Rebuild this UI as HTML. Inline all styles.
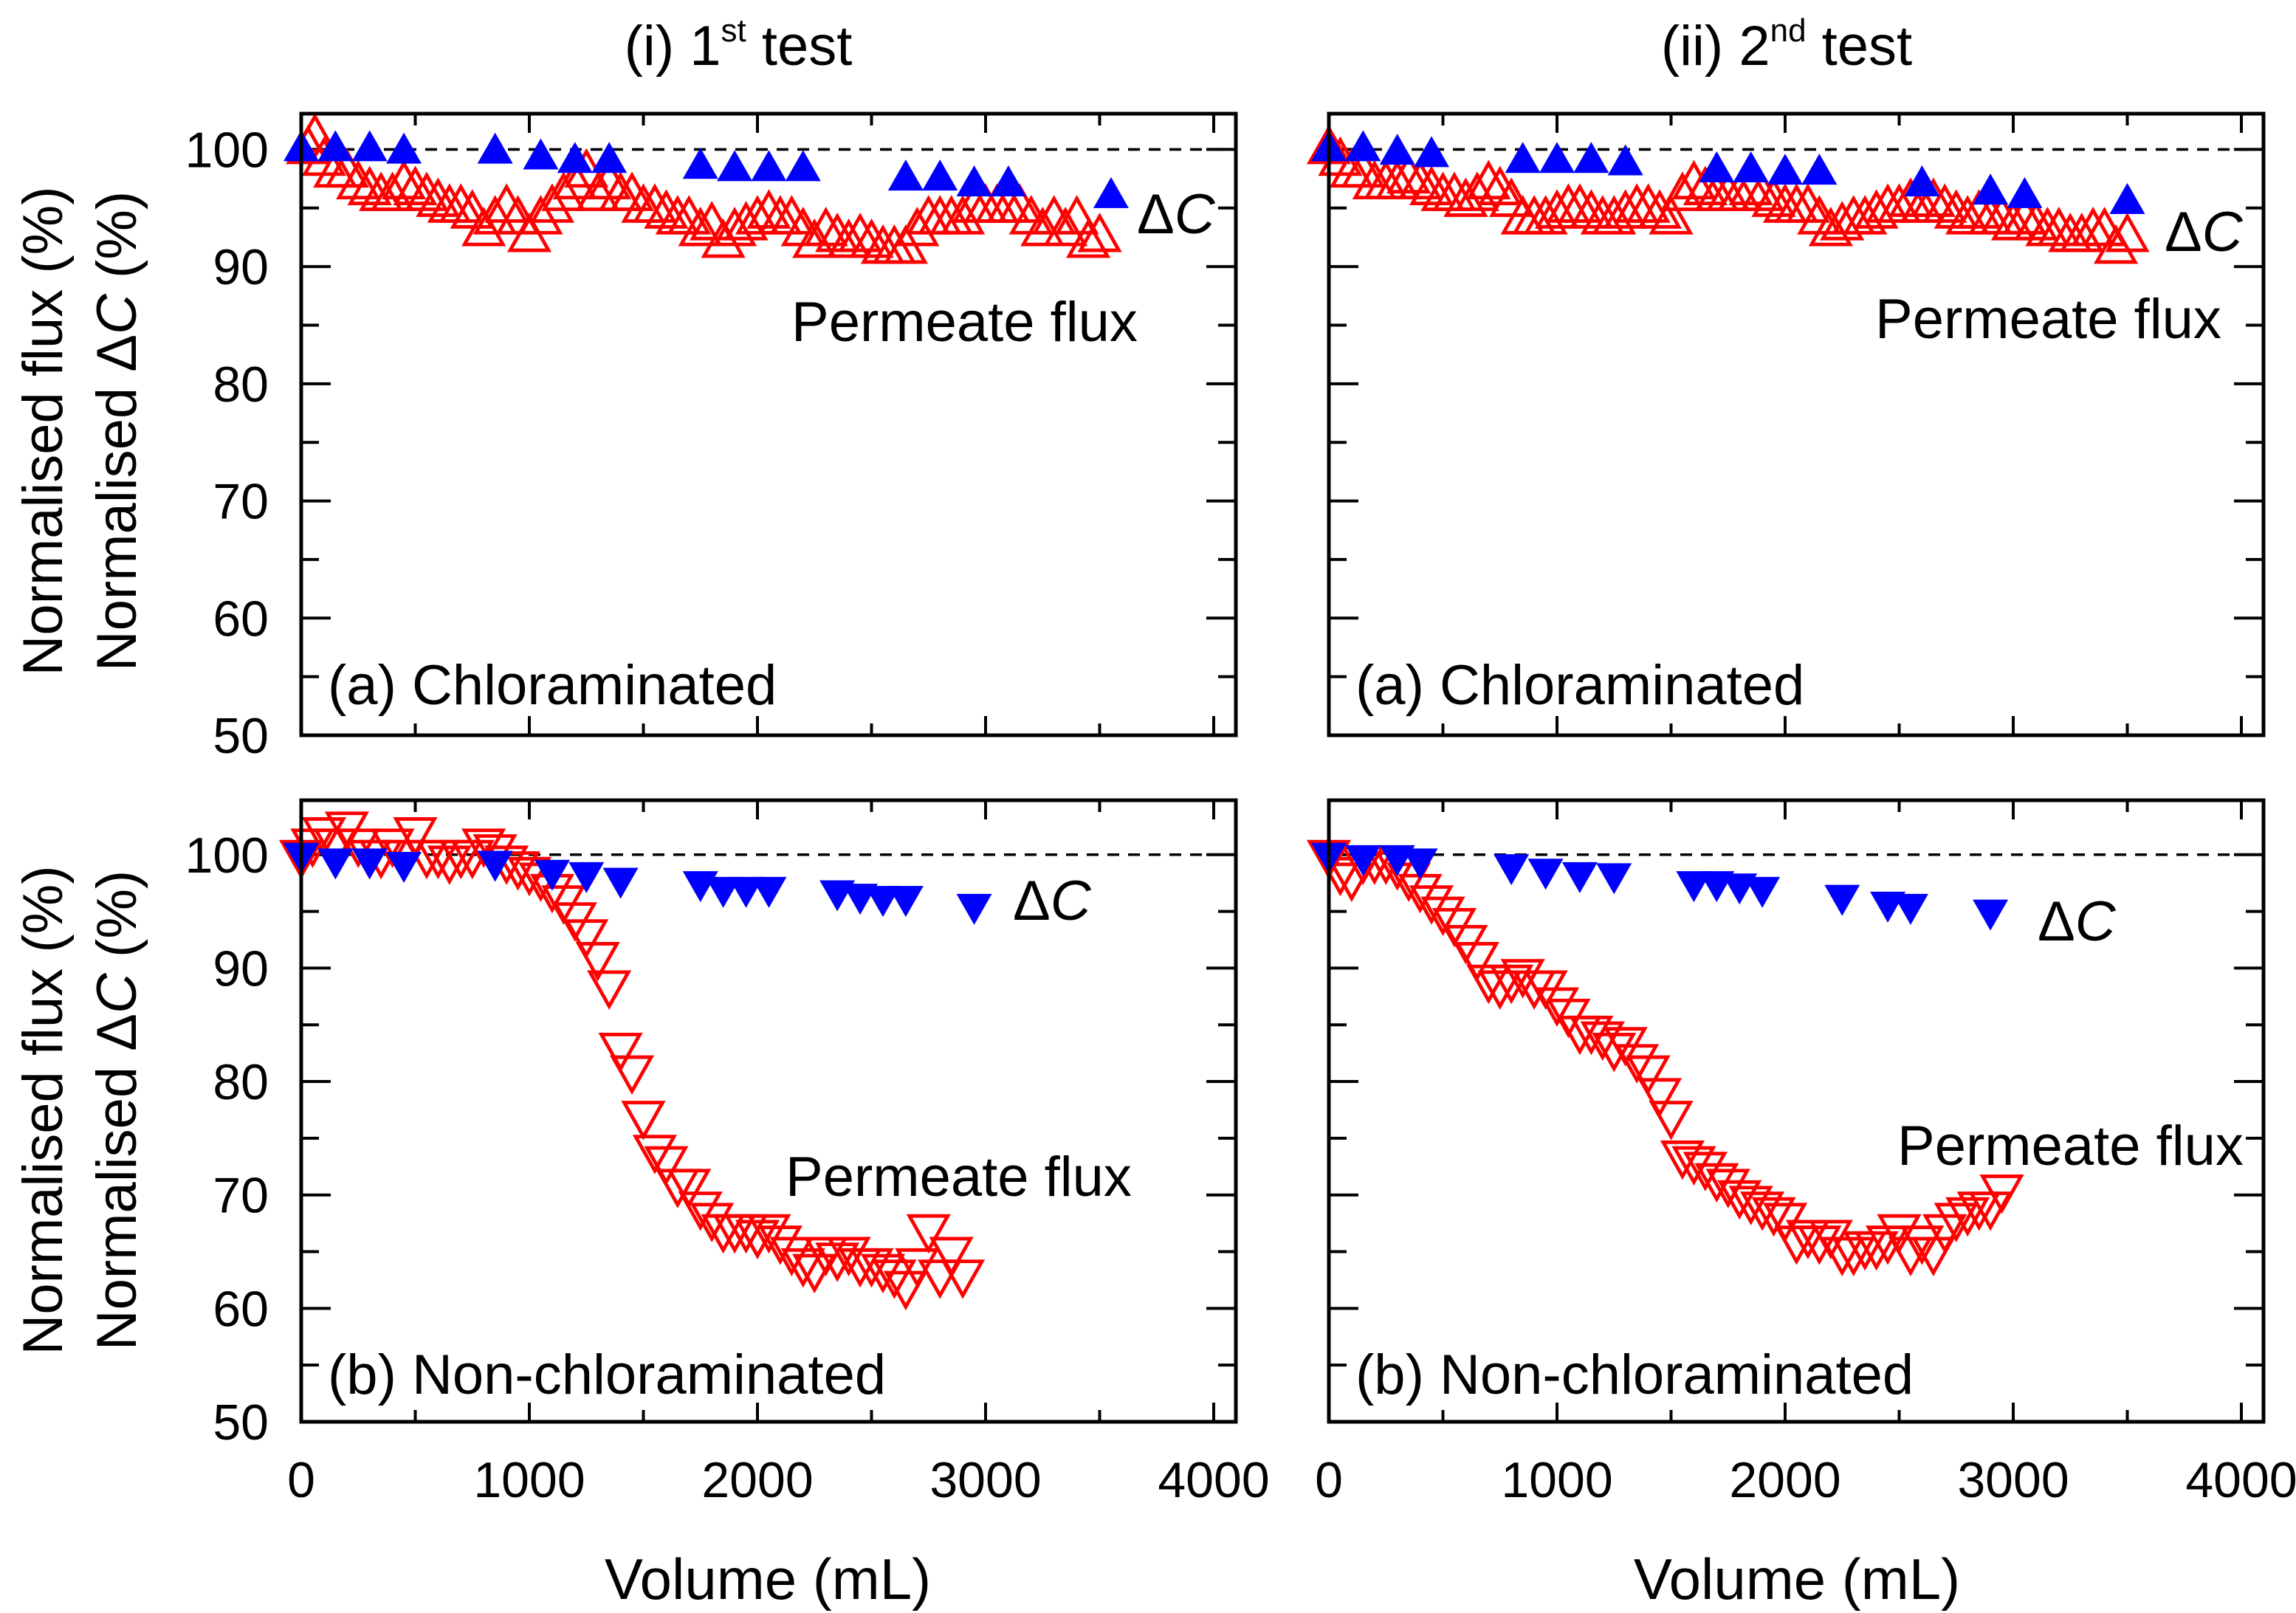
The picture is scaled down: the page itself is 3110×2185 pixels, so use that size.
<!DOCTYPE html>
<html><head><meta charset="utf-8"><style>
html,body{margin:0;padding:0;background:#fff}
svg{display:block}
text{font-family:"Liberation Sans",sans-serif;fill:#000}
</style></head><body>
<svg id="chart" width="3110" height="2185" viewBox="0 0 1555 1092.5" xmlns="http://www.w3.org/2000/svg">
<text x="500" y="44" text-anchor="middle" font-size="38">(i) 1<tspan font-size="22" dy="-16">st</tspan><tspan dy="16"> test</tspan></text>
<text x="1210" y="44" text-anchor="middle" font-size="38">(ii) 2<tspan font-size="22" dy="-16">nd</tspan><tspan dy="16"> test</tspan></text>
<text x="520" y="1083" text-anchor="middle" font-size="39">Volume (mL)</text>
<text x="1217" y="1083" text-anchor="middle" font-size="39">Volume (mL)</text>
<text transform="translate(42,292) rotate(-90)" text-anchor="middle" font-size="38">Normalised flux (%)</text>
<text transform="translate(92,292) rotate(-90)" text-anchor="middle" font-size="38">Normalised Δ<tspan font-style="italic">C</tspan> (%)</text>
<text transform="translate(42,752) rotate(-90)" text-anchor="middle" font-size="38">Normalised flux (%)</text>
<text transform="translate(92,752) rotate(-90)" text-anchor="middle" font-size="38">Normalised Δ<tspan font-style="italic">C</tspan> (%)</text>
</svg>
<script>
const xTicks=[0,1000,2000,3000,4000];
const yTicks=[50,60,70,80,90,100];
const tlFluxX=[30,60,100,150,200,250,300,350,400,450,500,550,600,650,700,750,800,850,900,950,1000,1050,1100,1150,1200,1250,1300,1350,1400,1450,1500,1550,1600,1650,1700,1750,1800,1850,1900,1950,2000,2050,2100,2150,2200,2250,2300,2350,2400,2450,2500,2550,2600,2650,2700,2750,2800,2850,2900,2950,3000,3050,3100,3150,3200,3250,3300,3350,3400,3450,3500];
const tlFluxY=[100,101,99,98,98,97,96.5,96,96,97,96.5,96,95.5,95,95,94.5,93,94,95,94,92.5,94,95,96,97,98,96,97,96,96,95,95,94.5,94,94,93,93.5,92,93,93.5,94,94.5,94,94,93,92,93,92.5,92,92.5,92,91.5,91.5,91.5,93,94,94,94,94,95,95,95,95,95,94,93,94,93,94,92,92.5];
const tlDcX=[0,150,300,450,850,1050,1200,1350,1750,1900,2050,2200,2650,2800,2950,3100,3550];
const tlDcY=[100,100,100,99.8,99.8,99.3,99,99,98.5,98.3,98.3,98.3,97.5,97.5,97,97,96];
const trFluxX=[0,50,100,150,200,250,300,350,400,450,500,550,600,650,700,750,800,850,900,950,1000,1050,1100,1150,1200,1250,1300,1350,1400,1450,1500,1550,1600,1650,1700,1750,1800,1850,1900,1950,2000,2050,2100,2150,2200,2250,2300,2350,2400,2450,2500,2550,2600,2650,2700,2750,2800,2850,2900,2950,3000,3050,3100,3150,3200,3250,3300,3350,3400,3450,3500];
const trFluxY=[100,99,98,98,97,97,97,97.5,97,96.5,96,96,95.5,96,97,96.5,95.5,94,94,94,94.5,95,95,94.5,94,94,94.5,95,95,94.5,94,96,97,96.5,96,96,96,96.5,96,95.5,95,95,95,94,93,93.5,94,94,94.5,95,95,95.5,95,95.5,95,94.5,94,94.5,94,94,93.5,94,93.5,93,93,92.5,92.5,93,93,91.5,92.5];
const trDcX=[0,150,300,450,850,1000,1150,1300,1700,1850,2000,2150,2600,2900,3050,3500];
const trDcY=[100,100,99.7,99.5,99,99,99,98.8,98.2,98.2,98,98,97,96.3,96,95.5];
const blFluxX=[0,50,100,150,200,250,300,350,400,450,500,550,600,650,700,750,800,850,900,950,1000,1050,1100,1150,1200,1250,1300,1350,1400,1450,1500,1550,1600,1650,1700,1750,1800,1850,1900,1950,2000,2050,2100,2150,2200,2250,2300,2350,2400,2450,2500,2550,2600,2650,2700,2750,2800,2850,2900];
const blFluxY=[100,101,102,101,102.5,101,100,100,101,100,102,100,100,99.5,100,100,101,100.5,99.5,99,98.5,98,97,96,94.5,93,91,88.5,83,81,77,74,73,71,71,69,68,67,67,67,66.5,67,66,65,64,63.5,65,64.5,65,64,64,63.5,63,62,64,67,63,65,63];
const blDcX=[0,150,300,450,850,1100,1250,1400,1750,1850,1950,2050,2350,2450,2550,2650,2950];
const blDcY=[100,99.5,99.5,99.2,99.3,98.5,98.3,97.8,97.5,97,97,97,96.7,96.4,96.2,96.2,95.5];
const brFluxX=[0,50,100,150,200,250,300,350,400,450,500,550,600,650,700,750,800,850,900,950,1000,1050,1100,1150,1200,1250,1300,1350,1400,1450,1500,1550,1600,1650,1700,1750,1800,1850,1900,1950,2000,2050,2100,2150,2200,2250,2300,2350,2400,2450,2500,2550,2600,2650,2700,2750,2800,2850,2900,2950];
const brFluxY=[100,98.5,98,99.5,99.5,99.5,99,98,97,96,95,94,92.5,91,89,88.5,89,89.5,88.5,88.5,87,86,84.5,84.5,84,83,83.5,82,81,79,77,73.5,73,72.5,71.5,71,70,69.5,69,68.5,68,66,66.5,66,66.5,65,65,65.5,65.5,66,67,65,66,65,67,68,68.5,69,69,70.5];
const brDcX=[0,150,300,400,800,950,1100,1250,1600,1700,1800,1900,2250,2450,2550,2900];
const brDcY=[100,99.8,99.8,99.5,99,98.6,98.3,98.2,97.5,97.5,97.3,97,96.3,95.7,95.5,95];

const NS="http://www.w3.org/2000/svg";
const svg=document.getElementById('chart');
function mk(tag,at,parent){const e=document.createElementNS(NS,tag);for(const k in at)e.setAttribute(k,at[k]);(parent||svg).appendChild(e);return e;}

const panels=[
 {id:'a1',L:204,T:77,B:498,ymax:103.05,x4:822,fx:tlFluxX,fy:tlFluxY,dx:tlDcX,dy:tlDcY,up:true,xl:false,yl:true,
  labels:[['Permeate flux',536,231],['(a) Chloraminated',222,477]],dc:[770,158]},
 {id:'a2',L:900,T:77,B:498,ymax:103.05,x4:1518,fx:trFluxX,fy:trFluxY,dx:trDcX,dy:trDcY,up:true,xl:false,yl:false,
  labels:[['Permeate flux',1270,229],['(a) Chloraminated',918,477]],dc:[1466,170]},
 {id:'b1',L:204,T:542,B:963,ymax:104.8,x4:822,fx:blFluxX,fy:blFluxY,dx:blDcX,dy:blDcY,up:false,xl:true,yl:true,
  labels:[['Permeate flux',532,810],['(b) Non-chloraminated',222,944]],dc:[686,623]},
 {id:'b2',L:900,T:542,B:963,ymax:104.8,x4:1518,fx:brFluxX,fy:brFluxY,dx:brDcX,dy:brDcY,up:false,xl:true,yl:false,
  labels:[['Permeate flux',1285,789],['(b) Non-chloraminated',918,944]],dc:[1380,637]}
];
panels.forEach(p=>{
 const R=p.L+633;
 const g=mk('g',{});
 
 
 const X=v=>p.L+(p.x4-p.L)*v/4000;
 const Y=v=>p.B-(p.B-p.T)*(v-50)/(p.ymax-50);
 const dl=mk('line',{x1:p.L,x2:R,y1:Y(100),y2:Y(100),stroke:'#000','stroke-width':1.8,'stroke-dasharray':'8,6'},g);
 
 
 for(let v=0;v<=4000;v+=500){const len=v%1000===0?13:8;
  mk('line',{x1:X(v),x2:X(v),y1:p.B,y2:p.B-len,stroke:'#000','stroke-width':2},g);
  mk('line',{x1:X(v),x2:X(v),y1:p.T,y2:p.T+len,stroke:'#000','stroke-width':2},g);}
 for(let v=50;v<=p.ymax;v+=5){const len=v%10===0?20:12;
  mk('line',{x1:p.L,x2:p.L+len,y1:Y(v),y2:Y(v),stroke:'#000','stroke-width':2},g);
  mk('line',{x1:R,x2:R-len,y1:Y(v),y2:Y(v),stroke:'#000','stroke-width':2},g);}
 if(p.yl)yTicks.forEach(v=>{const t=mk('text',{x:p.L-22,y:Y(v)+12,'text-anchor':'end','font-size':34},g);t.textContent=v;
  
  });
 if(p.xl)xTicks.forEach(v=>{const t=mk('text',{x:X(v),y:1014,'text-anchor':'middle','font-size':34},g);t.textContent=v;
  
  });
 const s=13, h=11;
 p.fx.forEach((xv,i)=>{const cx=X(xv),cy=Y(p.fy[i]);
  const pts=p.up?`${cx-s},${cy+h*0.8} ${cx+s},${cy+h*0.8} ${cx},${cy-h*1.3}`:`${cx-s},${cy-h*0.8} ${cx+s},${cy-h*0.8} ${cx},${cy+h*1.3}`;
  const m=mk('polygon',{points:pts,fill:'none',stroke:'#ff0000','stroke-width':2.4},g);
  
  });
 const s2=12,h2=10;
 p.dx.forEach((xv,i)=>{const cx=X(xv),cy=Y(p.dy[i]);
  const pts=p.up?`${cx-s2},${cy+h2*0.8} ${cx+s2},${cy+h2*0.8} ${cx},${cy-h2*1.3}`:`${cx-s2},${cy-h2*0.8} ${cx+s2},${cy-h2*0.8} ${cx},${cy+h2*1.3}`;
  const m=mk('polygon',{points:pts,fill:'#0000ff',stroke:'none'},g);
  
  });
 const fr=mk('rect',{x:p.L,y:p.T,width:633,height:p.B-p.T,fill:'none',stroke:'#000','stroke-width':2.5},g);
 
 
 p.labels.forEach(l=>{const t=mk('text',{x:l[1],y:l[2],'font-size':38},g);t.textContent=l[0];
  
  });
 const dc=mk('text',{x:p.dc[0],y:p.dc[1],'font-size':38},g);
 
 
 dc.innerHTML='Δ<tspan font-style="italic">C</tspan>';
});
</script>
</body></html>
